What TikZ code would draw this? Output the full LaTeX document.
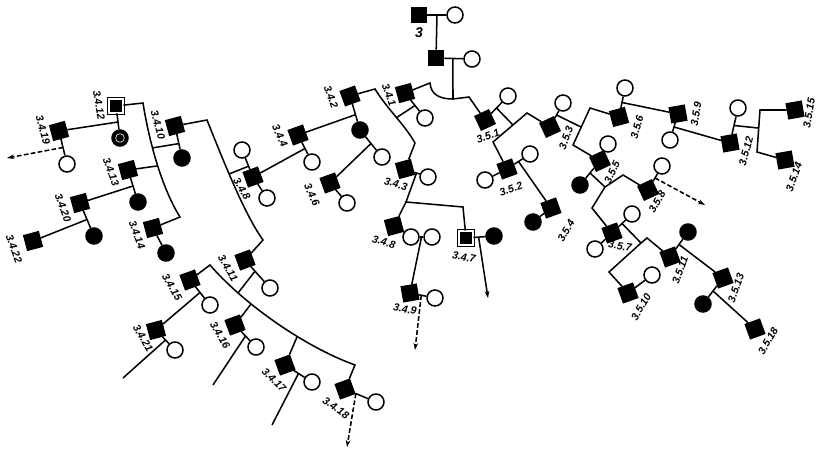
\documentclass[tikz,border=0pt]{standalone}
\usepackage{fontspec}
\setmainfont{Liberation Sans}
\usepackage{tikz}
\usetikzlibrary{arrows.meta, calc}

\begin{document}
\begin{tikzpicture}[
    x=0.03cm, y=-0.03cm, line width=1.3pt,
    male/.style={draw, fill=black, rectangle, minimum size=0.45cm, inner sep=0pt},
    marked/.style={draw=black, fill=black, rectangle, minimum size=0.42cm, inner sep=0pt,
                   line width=0.6pt, double=white, double distance=1.4pt},
    wife/.style={draw, fill=white, circle, minimum size=0.48cm, inner sep=0pt},
    ill/.style={draw, fill=black, circle, minimum size=0.48cm, inner sep=0pt},
    ringed/.style={ill, path picture={\draw[white, line width=0.5pt]
                   (path picture bounding box.center) circle (0.13cm);}},
    lbl/.style={inner sep=0pt, font=\fontsize{9}{10}\selectfont\bfseries\itshape},
    lineage/.style={-{Stealth[length=6pt, width=4pt]}},
    dlineage/.style={-{Stealth[length=6pt, width=4pt]}, dash pattern=on 4pt off 2pt}
]
\useasboundingbox (0,0) rectangle (816,452);

% founders
\node[male] (g1) at (419,15) {};
\node[wife] (g1w) at (455,15) {};
\node[lbl, font=\large\bfseries\itshape] (l3) at (419,33) {3};
\node[male] (g2) at (436,58) {};
\node[wife] (g2w) at (472,59) {};
\draw (g1) -- (g1w);
\coordinate (d1) at ($(g1)!0.5!(g1w)$);
\draw (d1) -- (g2);
\draw (g2) -- (g2w);
\coordinate (d2) at ($(g2)!0.47!(g2w)$);
\coordinate (s2) at (453,99);
\draw (d2) -- (s2);

% branch 3.4
\node[male, rotate=15] (n341) at (405,93) {};
\node[wife] (f341) at (425,118) {};
\node[male, rotate=20] (n342) at (350,96) {};
\node[ill] (a342) at (360,130) {};
\node[male, rotate=15] (n343) at (405,169) {};
\node[wife] (f343) at (428,177) {};
\node[male, rotate=20] (n344) at (298,135) {};
\node[wife] (f344) at (312,162) {};
\node[wife] (w342) at (382,157) {};
\node[male, rotate=20] (n346) at (330,183) {};
\node[wife] (f346) at (347,203) {};
\node[male, rotate=20] (n348) at (253,177) {};
\node[wife] (f348a) at (242,150) {};
\node[wife] (f348b) at (267,198) {};
\node[male, rotate=15] (n348b) at (394,226) {};
\node[wife] (f348c) at (411,237) {};
\node[wife] (f348d) at (432,237) {};
\node[male, rotate=10] (n349) at (410,293) {};
\node[wife] (f349) at (435,298) {};
\node[marked] (n347) at (466,238) {};
\node[ill] (a347) at (494,236) {};
\node[male, rotate=15] (n3410) at (175,126) {};
\node[ill] (a3410) at (182,158) {};
\node[male, rotate=20] (n3411) at (245,260) {};
\node[wife] (f3411) at (270,288) {};
\node[marked] (n3412) at (116,106) {};
\node[ringed] (r3412) at (120,138) {};
\node[male, rotate=15] (n3413) at (128,170) {};
\node[ill] (a3413) at (138,202) {};
\node[male, rotate=15] (n3414) at (153,228) {};
\node[ill] (a3414) at (166,253) {};
\node[male, rotate=20] (n3415) at (190,280) {};
\node[wife] (f3415) at (210,305) {};
\node[male, rotate=20] (n3416) at (235,325) {};
\node[wife] (f3416) at (256,347) {};
\node[male, rotate=20] (n3417) at (285,365) {};
\node[wife] (f3417) at (312,382) {};
\node[male, rotate=20] (n3418) at (345,389) {};
\node[wife] (f3418) at (376,402) {};
\node[male, rotate=15] (n3419) at (59,131) {};
\node[wife] (f3419) at (67,164) {};
\node[male, rotate=15] (n3420) at (80,203) {};
\node[ill] (a3420) at (94,236) {};
\node[male, rotate=15] (n3421) at (156,330) {};
\node[wife] (f3421) at (175,350) {};
\node[male, rotate=15] (n3422) at (33,241) {};

% branch 3.5
\node[male, rotate=25] (n351) at (485,120) {};
\node[wife] (f351) at (508,96) {};
\node[male, rotate=20] (n352) at (507,169) {};
\node[wife] (f352a) at (485,180) {};
\node[wife] (f352b) at (530,154) {};
\node[male, rotate=25] (n353) at (550,127) {};
\node[wife] (f353) at (563,103) {};
\node[male, rotate=20] (n354) at (551,208) {};
\node[ill] (a354) at (533,222) {};
\node[male, rotate=25] (n355) at (600,161) {};
\node[wife] (f355) at (608,144) {};
\node[ill] (a355) at (580,185) {};
\node[male, rotate=15] (n356) at (619,117) {};
\node[wife] (f356) at (625,88) {};
\node[male, rotate=20] (n357) at (612,233) {};
\node[wife] (f357a) at (632,214) {};
\node[wife] (f357b) at (595,249) {};
\node[male, rotate=25] (n358) at (648,190) {};
\node[wife] (f358) at (662,166) {};
\node[male, rotate=10] (n359) at (678,114) {};
\node[wife] (f359) at (670,140) {};
\node[male, rotate=20] (n3510) at (628,293) {};
\node[wife] (f3510) at (652,275) {};
\node[male, rotate=20] (n3511) at (670,257) {};
\node[ill] (a3511) at (688,232) {};
\node[male, rotate=10] (n3512) at (730,143) {};
\node[wife] (f3512) at (738,108) {};
\node[male, rotate=20] (n3513) at (723,278) {};
\node[ill] (a3513) at (703,304) {};
\node[male, rotate=10] (n3514) at (785,160) {};
\node[male, rotate=10] (n3515) at (795,110) {};
\node[male, rotate=20] (n3518) at (755,329) {};

% first sibship
\draw (n341) -- (430,83) .. controls (431,95) and (440,99) .. (s2) -- (469,97) -- (n351);

% marriages and descents, 3.4
\draw (n341) -- (f341);
\coordinate (d341) at ($(n341)!0.5!(f341)$);
\coordinate (j341) at (396,118);
\draw (d341) -- (j341);
\draw (n342) -- (375,89) .. controls (388,110) and (405,125) .. (415,143) -- (n343);
\draw (n342) -- (a342);
\coordinate (d342) at ($(n342)!0.55!(a342)$);
\draw (d342) -- (n344);
\draw (a342) -- (w342);
\coordinate (dw342) at ($(a342)!0.5!(w342)$);
\draw (dw342) -- (n346);
\draw (n346) -- (f346);
\draw (n344) -- (f344);
\coordinate (d344) at ($(n344)!0.5!(f344)$);
\draw (d344) -- (n348);
\draw (f348a) -- (n348) -- (f348b);
\coordinate (d348) at ($(f348a)!0.6!(n348)$);
\coordinate (j348) at (229,174);
\draw (d348) -- (j348);
\draw (n3410) -- (207,120) .. controls (225,165) and (245,215) .. (263,240) -- (n3411);
\draw (n343) -- (f343);
\coordinate (d343) at ($(n343)!0.5!(f343)$);
\coordinate (j343) at (406,202);
\draw (d343) -- (j343);
\draw (n348b) -- (j343) -- (463,207) -- (n347);
\draw (n348b) -- (f348c) -- (f348d);
\coordinate (d348b) at ($(f348c)!0.5!(f348d)$);
\draw (d348b) -- (n349);
\draw (n349) -- (f349);
\coordinate (d349) at ($(n349)!0.45!(f349)$);
\coordinate (e349) at (415,350);
\draw[dlineage] (d349) -- (e349);
\draw (n347) -- (a347);
\coordinate (d347) at ($(n347)!0.45!(a347)$);
\coordinate (e347) at (488,298);
\draw[lineage] (d347) -- (e347);

\draw (n3410) -- (a3410);
\coordinate (d3410) at ($(n3410)!0.55!(a3410)$);
\coordinate (j3410) at (152,148);
\draw (d3410) -- (j3410);
\draw (n3412) -- (143,103) .. controls (148,135) and (160,185) .. (180,217) -- (n3414);
\coordinate (j3413) at (157,166);
\draw (j3413) -- (n3413);
\draw (n3412) -- (r3412);
\coordinate (d3412) at ($(n3412)!0.5!(r3412)$);
\draw (d3412) -- (n3419);
\draw (n3419) -- (f3419);
\coordinate (d3419) at ($(n3419)!0.5!(f3419)$);
\coordinate (e3419) at (7,158);
\draw[dlineage] (d3419) -- (e3419);
\draw (n3413) -- (a3413);
\coordinate (d3413) at ($(n3413)!0.5!(a3413)$);
\draw (d3413) -- (n3420);
\draw (n3420) -- (a3420);
\coordinate (d3420) at ($(n3420)!0.5!(a3420)$);
\draw (d3420) -- (n3422);
\draw (n3414) -- (a3414);

\draw (n3411) -- (f3411);
\coordinate (d3411) at ($(n3411)!0.4!(f3411)$);
\coordinate (j3411) at (238,293);
\draw (d3411) -- (j3411);
\draw (n3415) -- (210,265) .. controls (240,300) and (300,345) .. (355,365) -- (n3418);
\coordinate (j3416) at (251,304);
\coordinate (j3417) at (297,337);
\draw (j3416) -- (n3416);
\draw (j3417) -- (n3417);
\draw (n3415) -- (f3415);
\coordinate (d3415) at ($(n3415)!0.5!(f3415)$);
\draw (d3415) -- (n3421);
\draw (n3421) -- (f3421);
\coordinate (d3421) at ($(n3421)!0.5!(f3421)$);
\coordinate (e3421) at (123,378);
\draw (d3421) -- (e3421);
\draw (n3416) -- (f3416);
\coordinate (d3416) at ($(n3416)!0.5!(f3416)$);
\coordinate (e3416) at (213,385);
\draw (d3416) -- (e3416);
\draw (n3417) -- (f3417);
\coordinate (d3417) at ($(n3417)!0.5!(f3417)$);
\coordinate (e3417) at (272,425);
\draw (d3417) -- (e3417);
\draw (n3418) -- (f3418);
\coordinate (d3418) at ($(n3418)!0.35!(f3418)$);
\coordinate (e3418) at (347,447);
\draw[dlineage] (d3418) -- (e3418);

% marriages and descents, 3.5
\draw (n351) -- (f351);
\coordinate (d351) at ($(n351)!0.5!(f351)$);
\coordinate (j351) at (513,125);
\draw (d351) -- (j351);
\draw (n352) -- (493,142) -- (527,113) -- (n353);
\draw (f352a) -- (n352) -- (f352b);
\coordinate (d352) at ($(n352)!0.5!(f352b)$);
\draw (d352) -- (n354);
\draw (a354) -- (n354);
\draw (n353) -- (f353);
\coordinate (d353) at ($(n353)!0.5!(f353)$);
\coordinate (j353) at (581,127);
\draw (d353) -- (j353);
\draw (n355) -- (573,145) -- (590,108) -- (n356);
\draw (f355) -- (n355) -- (a355);
\coordinate (d355) at ($(n355)!0.5!(a355)$);
\coordinate (j355) at (605,187);
\draw (d355) -- (j355);
\draw (n357) -- (592,208) -- (j355) -- (623,175) -- (n358);
\draw (n358) -- (f358);
\coordinate (d358) at ($(n358)!0.5!(f358)$);
\coordinate (e358) at (705,205);
\draw[dlineage] (d358) -- (e358);
\draw (f357b) -- (n357) -- (f357a);
\coordinate (d357) at ($(n357)!0.5!(f357a)$);
\coordinate (j357) at (641,243);
\draw (d357) -- (j357);
\draw (n3510) -- (609,272) -- (j357) -- (647,238) -- (n3511);
\draw (n3510) -- (f3510);
\draw (n3511) -- (a3511);
\coordinate (d3511) at ($(n3511)!0.5!(a3511)$);
\draw (d3511) -- (n3513);
\draw (a3513) -- (n3513);
\coordinate (d3513) at ($(n3513)!0.5!(a3513)$);
\draw (d3513) -- (n3518);
\draw (n356) -- (f356);
\coordinate (d356) at ($(f356)!0.5!(n356)$);
\draw (d356) -- (n359);
\draw (n359) -- (f359);
\coordinate (d359) at ($(n359)!0.5!(f359)$);
\draw (d359) -- (n3512);
\draw (n3512) -- (f3512);
\coordinate (d3512) at ($(n3512)!0.5!(f3512)$);
\coordinate (j3512) at (758,128);
\draw (d3512) -- (j3512);
\draw (n3515) -- (760,110) -- (757,152) -- (n3514);

% labels
\node[lbl, rotate=-70] (l341) at (389,95) {3.4.1};
\node[lbl, rotate=-70] (l342) at (331,97) {3.4.2};
\node[lbl, rotate=-15] (l343) at (396,184) {3.4.3};
\node[lbl, rotate=-65] (l344) at (280,136) {3.4.4};
\node[lbl, rotate=-65] (l346) at (312,195) {3.4.6};
\node[lbl, rotate=-60] (l348) at (242,189) {3.4.8};
\node[lbl, rotate=-15] (l348b) at (384,242) {3.4.8};
\node[lbl, rotate=-10] (l347) at (464,257) {3.4.7};
\node[lbl, rotate=-10] (l349) at (405,309) {3.4.9};
\node[lbl, rotate=-75] (l3410) at (158,125) {3.4.10};
\node[lbl, rotate=-60] (l3411) at (228,268) {3.4.11};
\node[lbl, rotate=-80] (l3412) at (99,105) {3.4.12};
\node[lbl, rotate=-70] (l3413) at (111,172) {3.4.13};
\node[lbl, rotate=-70] (l3414) at (137,235) {3.4.14};
\node[lbl, rotate=-60] (l3415) at (172,287) {3.4.15};
\node[lbl, rotate=-60] (l3416) at (220,335) {3.4.16};
\node[lbl, rotate=-45] (l3417) at (274,380) {3.4.17};
\node[lbl, rotate=-35] (l3418) at (336,408) {3.4.18};
\node[lbl, rotate=-75] (l3419) at (43,130) {3.4.19};
\node[lbl, rotate=-70] (l3420) at (63,208) {3.4.20};
\node[lbl, rotate=-60] (l3421) at (143,338) {3.4.21};
\node[lbl, rotate=-70] (l3422) at (14,249) {3.4.22};
\node[lbl, rotate=20] (l351) at (488,136) {3.5.1};
\node[lbl, rotate=20] (l352) at (511,189) {3.5.2};
\node[lbl, rotate=70] (l353) at (566,138) {3.5.3};
\node[lbl, rotate=60] (l354) at (566,231) {3.5.4};
\node[lbl, rotate=65] (l355) at (612,172) {3.5.5};
\node[lbl, rotate=75] (l356) at (637,127) {3.5.6};
\node[lbl, rotate=-8] (l357) at (620,246) {3.5.7};
\node[lbl, rotate=60] (l358) at (657,202) {3.5.8};
\node[lbl, rotate=80] (l359) at (696,114) {3.5.9};
\node[lbl, rotate=60] (l3510) at (641,307) {3.5.10};
\node[lbl, rotate=70] (l3511) at (680,270) {3.5.11};
\node[lbl, rotate=75] (l3512) at (746,151) {3.5.12};
\node[lbl, rotate=70] (l3513) at (736,288) {3.5.13};
\node[lbl, rotate=70] (l3514) at (794,177) {3.5.14};
\node[lbl, rotate=80] (l3515) at (809,113) {3.5.15};
\node[lbl, rotate=60] (l3518) at (768,341) {3.5.18};
\end{tikzpicture}
\end{document}
